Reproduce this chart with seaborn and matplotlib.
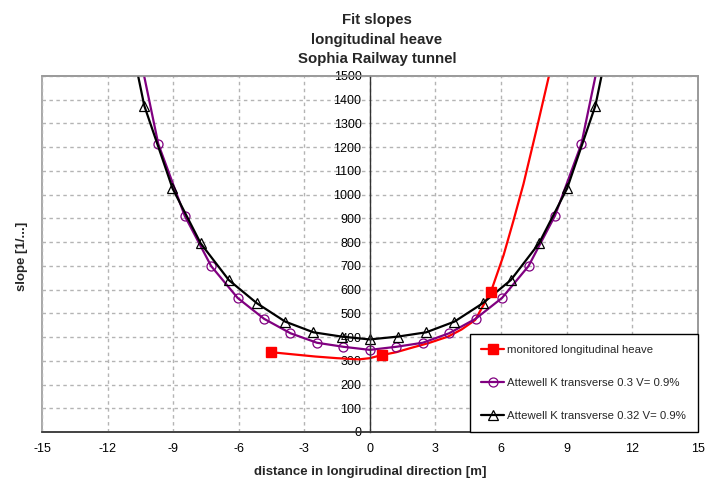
import matplotlib
matplotlib.use("Agg")
import matplotlib.pyplot as plt
from matplotlib.lines import Line2D
import seaborn as sns

# monitored longitudinal heave: measured points and the drawn (smoothed) line
heave_x = [-4.5, 0.54, 5.54]
heave_y = [336, 324, 591]
heave_line_x = [-4.5, -3.5, -2.5, -1.5, -0.5, 0.0, 0.54, 1.2, 1.84, 2.7, 3.58, 4.2,
                4.82, 5.54, 5.8, 6.12, 6.57, 7.03, 7.64, 8.22, 8.5]
heave_line_y = [336, 327, 318, 311, 306, 311, 324, 336, 353, 375, 402, 432,
                472, 591, 660, 745, 890, 1045, 1280, 1510, 1625]

# Attewell K = 0.3, V = 0.9%
att03_x = [-10.89, -9.68, -8.47, -7.26, -6.05, -4.84, -3.63, -2.42, -1.21, 0.0,
           1.21, 2.42, 3.63, 4.84, 6.05, 7.26, 8.47, 9.68, 10.89]
att03_y = [1750, 1214, 911, 699, 565, 477, 416, 376, 359, 346,
           359, 376, 416, 477, 565, 699, 911, 1214, 1750]

# Attewell K = 0.32, V = 0.9%
att032_x = [-11.61, -10.32, -9.03, -7.74, -6.45, -5.16, -3.87, -2.58, -1.29, 0.0,
            1.29, 2.58, 3.87, 5.16, 6.45, 7.74, 9.03, 10.32, 11.61]
att032_y = [1950, 1375, 1027, 795, 640, 542, 465, 420, 402, 390,
            402, 420, 465, 542, 640, 795, 1027, 1375, 1950]

x_ticks = list(range(-15, 16, 3))
y_ticks = list(range(0, 1501, 100))

RED = "#ff0000"
PURPLE = "#800080"
BLACK = "#000000"
GRID = "#b4b4b4"

sns.set_style("white")
plt.rcParams['font.family'] = ['Liberation Sans', 'DejaVu Sans']

fig = plt.figure(figsize=(7.2, 4.83), dpi=100)
ax = fig.add_axes([0.0583, 0.1056, 0.9107, 0.7371])

# curves
sns.lineplot(x=heave_line_x, y=heave_line_y, color=RED, lw=1.6, sort=False,
             estimator=None, ax=ax)
ax.plot(heave_x, heave_y, ls="none", marker="s", ms=6.5, color=RED, zorder=5)
sns.lineplot(x=att03_x, y=att03_y, color=PURPLE, lw=1.6, sort=False, estimator=None,
             marker="o", ms=6.5, markerfacecolor="none", markeredgecolor=PURPLE,
             markeredgewidth=0.9, ax=ax)
sns.lineplot(x=att032_x, y=att032_y, color=BLACK, lw=1.6, sort=False, estimator=None,
             marker="^", ms=6.5, markerfacecolor="none", markeredgecolor=BLACK,
             markeredgewidth=0.9, ax=ax)

ax.set_xlim(-15, 15)
ax.set_ylim(0, 1500)
ax.set_xticks(x_ticks)
ax.set_yticks(y_ticks)
ax.set_xticklabels([str(v) for v in x_ticks])
ax.set_yticklabels([str(v) for v in y_ticks])

ax.grid(True, color=GRID, ls=(0, (2.5, 2.5)), lw=1.0)
ax.set_axisbelow(True)

# frame: gray box, y axis crossing at x = 0
for s in ["top", "right"]:
    ax.spines[s].set_color("#999999")
    ax.spines[s].set_linewidth(1.2)
ax.spines["bottom"].set_color("#333333")
ax.spines["bottom"].set_linewidth(1.2)
ax.spines["left"].set_position(("data", 0))
ax.spines["left"].set_color("#333333")
ax.spines["left"].set_linewidth(1.0)
ax.patch.set_edgecolor("#999999")
ax.patch.set_linewidth(1.2)

ax.tick_params(axis="x", direction="out", length=4, width=1, colors="#333333",
               labelsize=9, labelcolor="black", pad=4)
ax.tick_params(axis="y", direction="out", length=4, width=1, colors="#333333",
               labelsize=9, labelcolor="black", pad=2)

ax.set_title("Fit slopes\nlongitudinal heave\nSophia Railway tunnel",
             fontsize=10.8, fontweight="bold", linespacing=1.5, pad=9, x=0.511)
ax.set_xlabel("distance in longirudinal direction [m]", fontsize=9.5,
              fontweight="bold", labelpad=8)
fig.text(0.031, 0.47, "slope [1/...]", rotation=90, fontsize=9.5,
         fontweight="bold", ha="center", va="center")

handles = [
    Line2D([], [], color=RED, lw=1.6, marker="s", ms=6.5),
    Line2D([], [], color=PURPLE, lw=1.6, marker="o", ms=6.5,
           markerfacecolor="none", markeredgewidth=0.9),
    Line2D([], [], color=BLACK, lw=1.6, marker="^", ms=6.5,
           markerfacecolor="none", markeredgewidth=0.9),
]
labels = ["monitored longitudinal heave",
          "Attewell K transverse 0.3 V= 0.9%",
          "Attewell K transverse 0.32 V= 0.9%"]
leg = ax.legend(handles, labels, loc="lower right", bbox_to_anchor=(1.0, 0.0),
                borderaxespad=0.0, fontsize=8.2, labelspacing=2.0,
                handlelength=2.0, handletextpad=0.3, borderpad=1.0,
                fancybox=False, framealpha=1.0, edgecolor="black")
leg.get_frame().set_linewidth(1.0)

fig.savefig("out.png", dpi=100)
plt.close(fig)
